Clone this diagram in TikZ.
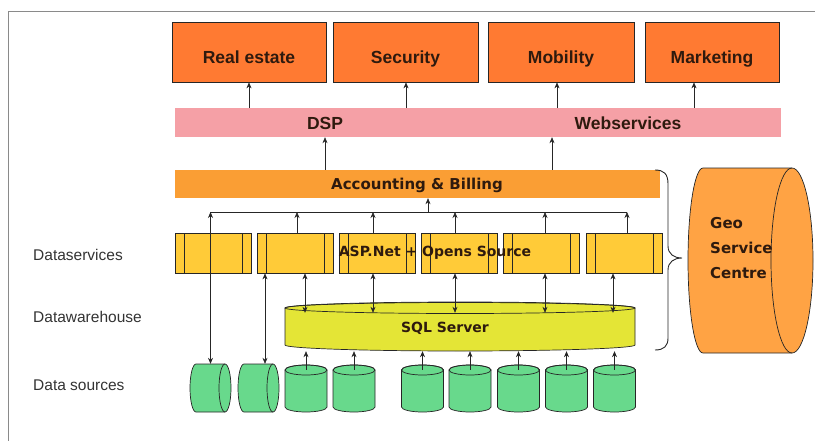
\documentclass[tikz,border=0pt]{standalone}
\usepackage{fontspec}
\setmainfont{Liberation Sans}
\newfontfamily\vfont{DejaVu Sans}
\usetikzlibrary{arrows.meta}
\definecolor{topor}{HTML}{FF7A32}
\definecolor{pinkb}{HTML}{F5A0A6}
\definecolor{accor}{HTML}{FA9E34}
\definecolor{dsyel}{HTML}{FFCB38}
\definecolor{sqly}{HTML}{E4E536}
\definecolor{dbgr}{HTML}{68D98C}
\definecolor{geoor}{HTML}{FFA344}
\definecolor{ink}{HTML}{2E1A0E}
\definecolor{frame}{HTML}{8A8A8A}
\newcommand\dbcyl[3]{%
  \node[cylnode,minimum width=42pt,minimum height=47pt] (#1) at (#2,#3) {};
  \begin{scope}[shift={(#1.center)}]
    \draw[outl,fill=dbgr] (-21,18.5) -- (-21,-18.5) arc[start angle=180,end angle=360,x radius=21,y radius=5] -- (21,18.5) arc[start angle=0,end angle=180,x radius=21,y radius=5] -- cycle;
    \draw[outl] (0,18.5) ellipse[x radius=21,y radius=5];
  \end{scope}}
\newcommand\hcyl[3]{%
  \node[cylnode,minimum width=41pt,minimum height=48pt] (#1) at (#2,#3) {};
  \begin{scope}[shift={(#1.center)}]
    \draw[outl,fill=dbgr] (-14.5,24) -- (14.5,24) arc[start angle=90,end angle=-90,x radius=6,y radius=24] -- (-14.5,-24) arc[start angle=270,end angle=90,x radius=6,y radius=24] -- cycle;
    \draw[outl] (14.5,24) arc[start angle=90,end angle=270,x radius=6,y radius=24];
  \end{scope}}
\begin{document}
\begin{tikzpicture}[x=1pt,y=1pt,
  outl/.style={draw=black!85,line width=0.7pt},
  topbox/.style={outl,fill=topor,minimum width=#1,minimum height=60pt,inner sep=0pt,
     text height=23pt,text depth=0pt,
     font=\fontsize{17.5}{20}\selectfont\bfseries,text=ink},
  band/.style={fill=#1,minimum height=28pt,inner sep=0pt},
  dsbox/.style={outl,fill=dsyel,minimum width=76pt,minimum height=40pt,inner sep=0pt,
     path picture={\draw[black!85,line width=0.7pt]
       ([xshift=9pt]path picture bounding box.north west) -- ([xshift=9pt]path picture bounding box.south west)
       ([xshift=-9pt]path picture bounding box.north east) -- ([xshift=-9pt]path picture bounding box.south east);}},
  cylnode/.style={inner sep=0pt,draw=none},
  lbl/.style={font=\fontsize{17.5}{20}\selectfont\bfseries,text=ink,inner sep=0pt},
  vlbl/.style={font=\vfont\fontsize{#1}{25}\selectfont\bfseries,text=ink,inner sep=0pt},
  side/.style={font=\fontsize{15.5}{18}\selectfont,text=black!80,anchor=west,inner sep=0pt},
  arr/.style={-{Stealth[length=6pt,width=5pt]},line width=0.6pt,black!85},
  darr/.style={{Stealth[length=6pt,width=5pt]}-{Stealth[length=6pt,width=5pt]},line width=0.6pt,black!85}]
\useasboundingbox (0,0) rectangle (824,-441);
% frame
\draw[frame,line width=1pt] (8,-441) -- (8,-12) -- (815,-12);
% top boxes
\node[topbox=154pt] (re) at (249,-52) {Real estate};
\node[topbox=145pt] (sec) at (405.5,-52) {Security};
\node[topbox=146pt] (mob) at (561,-52) {Mobility};
\node[topbox=134pt] (mkt) at (712,-52) {Marketing};
% DSP band
\node[band=pinkb,minimum width=606pt,minimum height=29pt] (dsp) at (478,-122.5) {};
\node[lbl] (dspt) at (325,-123) {DSP};
\node[lbl] (wst) at (628,-123) {Webservices};
\draw[arr] (re.south |- dsp.north) -- (re.south);
\draw[arr] ([xshift=0.5pt]sec.south |- dsp.north) -- ([xshift=0.5pt]sec.south);
\draw[arr] ([xshift=-4pt]mob.south |- dsp.north) -- ([xshift=-4pt]mob.south);
\draw[arr] ([xshift=-18pt]mkt.south |- dsp.north) -- ([xshift=-18pt]mkt.south);
% accounting
\node[band=accor,minimum width=485pt] (acc) at (417.5,-184) {};
\node[vlbl=15] (acct) at (417,-185) {Accounting \& Billing};
\draw[arr] (dspt.south |- acc.north) -- (dspt.south |- dsp.south);
\draw[arr] ([xshift=134.5pt]acc.north) -- ([xshift=134.5pt]acc.north |- dsp.south);
% dataservices
\node[dsbox] (ds1) at (213,-253) {};
\node[dsbox] (ds2) at (295,-253) {};
\node[dsbox] (ds3) at (377.5,-253) {};
\node[dsbox] (ds4) at (459.5,-253) {};
\node[dsbox] (ds5) at (541,-253) {};
\node[dsbox] (ds6) at (624,-253) {};
\node[vlbl=14] (aspt) at (435,-253) {ASP.Net + Opens Source};
% bus
\coordinate (busL) at (210,-212);
\coordinate (busR) at (627,-212);
\coordinate (busM) at (428,-212);
\draw[line width=0.6pt,black!85] (busL) -- (busR);
\draw[arr] (busM) -- (busM |- acc.south);
\draw[arr] ([xshift=2pt]ds2.north) -- ([xshift=2pt]ds2.north |- busL);
\draw[arr] ([xshift=-4.5pt]ds3.north) -- ([xshift=-4.5pt]ds3.north |- busL);
\draw[arr] ([xshift=-4.5pt]ds4.north) -- ([xshift=-4.5pt]ds4.north |- busL);
\draw[arr] ([xshift=4pt]ds5.north) -- ([xshift=4pt]ds5.north |- busL);
\draw[arr] ([xshift=3pt]ds6.north) -- ([xshift=3pt]ds6.north |- busL);
% SQL server
\node[cylnode,minimum width=350pt,minimum height=49pt] (sql) at (460,-326.5) {};
\begin{scope}[shift={(sql.center)}]
  \draw[outl,fill=sqly] (-175,18.5) -- (-175,-18.5) arc[start angle=180,end angle=360,x radius=175,y radius=6] -- (175,18.5) arc[start angle=0,end angle=180,x radius=175,y radius=6] -- cycle;
  \draw[outl] (0,18.5) ellipse[x radius=175,y radius=5.5];
\end{scope}
\node[vlbl=14] (sqlt) at (445,-328) {SQL Server};
\coordinate (sqlfront) at ([yshift=-11pt]sql.north);
\draw[darr] ([xshift=10pt]ds2.south) -- ([xshift=10pt]ds2.south |- sqlfront);
\draw[darr] ([xshift=-4.5pt]ds3.south) -- ([xshift=-4.5pt]ds3.south |- sqlfront);
\draw[darr] ([xshift=-4.5pt]ds4.south) -- ([xshift=-4.5pt]ds4.south |- sqlfront);
\draw[darr] ([xshift=4pt]ds5.south) -- ([xshift=4pt]ds5.south |- sqlfront);
\draw[darr] ([xshift=-11pt]ds6.south) -- ([xshift=-11pt]ds6.south |- sqlfront);
% data sources
\hcyl{h1}{210.5}{-388}
\hcyl{h2}{258.5}{-388}
\dbcyl{c3}{306}{-388.5}
\dbcyl{c4}{354}{-388.5}
\dbcyl{c5}{422.5}{-388.5}
\dbcyl{c6}{470}{-388.5}
\dbcyl{c7}{518.5}{-388.5}
\dbcyl{c8}{566.5}{-388.5}
\dbcyl{c9}{614.5}{-388.5}
\foreach \c in {c3,c4,c5,c6,c7,c8,c9}
  \draw[arr] ([yshift=-5pt]\c.north) -- (\c.north |- sql.south);
\draw[darr] (h1.north |- busL) -- (h1.north);
\draw[darr] ([xshift=6.5pt]h2.north |- ds2.south) -- ([xshift=6.5pt]h2.north);
% brace
\draw[line width=0.9pt,black!85] (655,-170) .. controls (664,-170) and (668,-174) .. (668,-184) -- (668,-246)
  .. controls (668,-254) and (674,-258) .. (682,-258) .. controls (674,-258) and (668,-262) .. (668,-270)
  -- (668,-338) .. controls (668,-346) and (664,-350) .. (655,-350);
% geo service centre
\node[cylnode,minimum width=125pt,minimum height=185pt] (geo) at (750.5,-260.5) {};
\begin{scope}[shift={(geo.center)}]
  \draw[outl,fill=geoor] (-47.5,92.5) -- (41.5,92.5) arc[start angle=90,end angle=-90,x radius=21,y radius=92.5] -- (-47.5,-92.5) arc[start angle=270,end angle=90,x radius=15,y radius=92.5] -- cycle;
  \draw[outl] (41.5,92.5) arc[start angle=90,end angle=270,x radius=21,y radius=92.5];
\end{scope}
\node[vlbl=15,align=left,anchor=west] (geot) at (710,-248) {Geo\\Service\\Centre};
% side labels
\node[side] (l1) at (33,-255) {Dataservices};
\node[side] (l2) at (33,-317) {Datawarehouse};
\node[side] (l3) at (33,-385) {Data sources};
\end{tikzpicture}
\end{document}
